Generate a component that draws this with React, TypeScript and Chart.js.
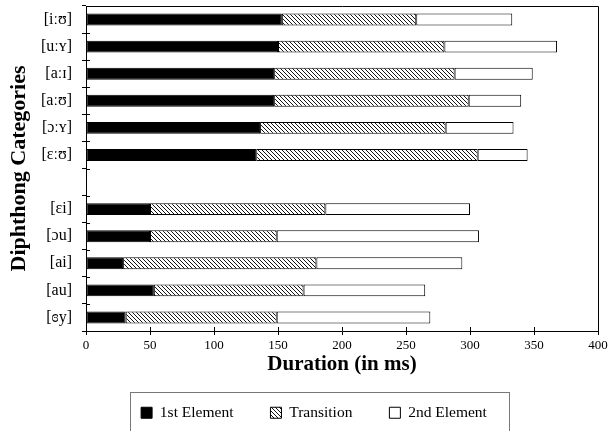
import React, { useEffect, useRef } from "react";
import { Chart, registerables } from "chart.js";

Chart.register(...registerables);

const categories = ["[iːʊ]", "[uːʏ]", "[aːɪ]", "[aːʊ]", "[ɔːʏ]", "[ɛːʊ]", "", "[ɛi]", "[ɔu]", "[ai]", "[au]", "[ɞy]"];
const firstElement = [153, 150, 147, 147, 136, 133, null, 50, 50, 29, 53, 31];
const transition = [105, 130, 141, 152, 145, 173, null, 137, 99, 151, 117, 118];
const secondElement = [75, 88, 61, 41, 53, 39, null, 113, 158, 114, 95, 120];
const seriesNames = ["1st Element", "Transition", "2nd Element"];
const xTicks = { min: 0, max: 400, step: 50 };

const FONT = "'Liberation Serif', 'Times New Roman', serif";

function makeHatch(): CanvasPattern | string {
  const c = document.createElement("canvas");
  c.width = 4;
  c.height = 4;
  const ctx = c.getContext("2d");
  if (!ctx) return "#888";
  const img = ctx.createImageData(4, 4);
  for (let y = 0; y < 4; y++) {
    for (let x = 0; x < 4; x++) {
      const i = (y * 4 + x) * 4;
      const v = x === y ? 20 : 255;
      img.data[i] = v;
      img.data[i + 1] = v;
      img.data[i + 2] = v;
      img.data[i + 3] = 255;
    }
  }
  ctx.putImageData(img, 0, 0);
  return ctx.createPattern(c, "repeat") || "#888";
}

const framePlugin = {
  id: "framePlugin",
  afterLayout(chart: any) {
    const lg = chart.legend;
    if (lg) {
      const dy = 368 - lg.top;
      lg.top += dy;
      lg.bottom += dy;
      lg.left += 12;
      lg.right += 12;
    }
  },
  afterDraw(chart: any) {
    const ctx = chart.ctx;
    const a = chart.chartArea;
    const xs = chart.scales.x;
    const ys = chart.scales.y;
    ctx.save();
    ctx.strokeStyle = "#000";
    ctx.lineWidth = 1;
    ctx.beginPath();
    ctx.moveTo(Math.round(a.left) + 0.5, Math.round(a.top) + 0.5);
    ctx.lineTo(Math.round(a.right) + 0.5, Math.round(a.top) + 0.5);
    ctx.lineTo(Math.round(a.right) + 0.5, Math.round(a.bottom) + 0.5);
    ctx.stroke();
    ctx.beginPath();
    xs.ticks.forEach((t: any) => {
      const px = Math.round(xs.getPixelForValue(t.value)) + 0.5;
      ctx.moveTo(px, a.bottom);
      ctx.lineTo(px, a.bottom - 4);
    });
    for (let i = 0; i <= categories.length; i++) {
      const py = Math.round(ys.getPixelForValue(i - 0.5)) + 0.5;
      ctx.moveTo(a.left, py);
      ctx.lineTo(a.left + 4, py);
    }
    ctx.stroke();
    ctx.strokeStyle = "#777";
    ctx.strokeRect(130.5, 392.5, 379, 60);
    ctx.restore();
  },
};

export default function App() {
  const ref = useRef<HTMLCanvasElement | null>(null);
  useEffect(() => {
    if (!ref.current) return;
    const hatch = makeHatch();
    const chart = new Chart(ref.current, {
      type: "bar",
      data: {
        labels: categories,
        datasets: [
          { label: seriesNames[0], data: firstElement as any, backgroundColor: "#000", borderColor: "#000", borderWidth: 1, borderSkipped: false },
          { label: seriesNames[1], data: transition as any, backgroundColor: hatch as any, borderColor: "#000", borderWidth: 1, borderSkipped: false },
          { label: seriesNames[2], data: secondElement as any, backgroundColor: "#fff", borderColor: "#000", borderWidth: 1, borderSkipped: false },
        ],
      },
      options: {
        indexAxis: "y",
        responsive: false,
        animation: false,
        devicePixelRatio: 1,
        layout: { padding: { left: 6, top: 6, right: 10, bottom: 0 } },
        datasets: { bar: { barPercentage: 0.44, categoryPercentage: 1 } },
        scales: {
          x: {
            stacked: true,
            min: xTicks.min,
            max: xTicks.max,
            ticks: { stepSize: xTicks.step, color: "#000", font: { family: FONT, size: 13 }, padding: 3 },
            grid: { drawOnChartArea: false, color: "#000", tickLength: 4 },
            border: { color: "#000", width: 1 },
            title: { display: true, text: "Duration (in ms)", color: "#000", font: { family: FONT, size: 21, weight: "bold" }, padding: { top: 0, bottom: 0 } },
            afterFit: (s: any) => { s.height = 46; s.paddingLeft = 0; s.paddingRight = 0; },
          },
          y: {
            stacked: true,
            ticks: { color: "#000", font: { family: FONT, size: 16 }, padding: 10 },
            grid: { drawOnChartArea: false, color: "#000", tickLength: 4, offset: true },
            border: { color: "#000", width: 1 },
            title: { display: true, text: "Diphthong Categories", color: "#000", font: { family: FONT, size: 22, weight: "bold" }, padding: 0 },
            afterFit: (s: any) => { s.width = 80; s.paddingTop = 0; s.paddingBottom = 0; },
          },
        },
        plugins: {
          legend: {
            position: "bottom",
            maxHeight: 54,
            labels: {
              color: "#000",
              font: { family: FONT, size: 15.5 },
              boxWidth: 11,
              boxHeight: 11,
              padding: 37,
            },
          },
          tooltip: { enabled: false },
        },
      } as any,
      plugins: [framePlugin],
    });
    return () => chart.destroy();
  }, []);
  return (
    <div style={{ position: "fixed", left: 0, top: 0, width: 608, height: 431, background: "#fff" }}>
      <canvas ref={ref} width={608} height={431} style={{ display: "block" }} />
    </div>
  );
}
